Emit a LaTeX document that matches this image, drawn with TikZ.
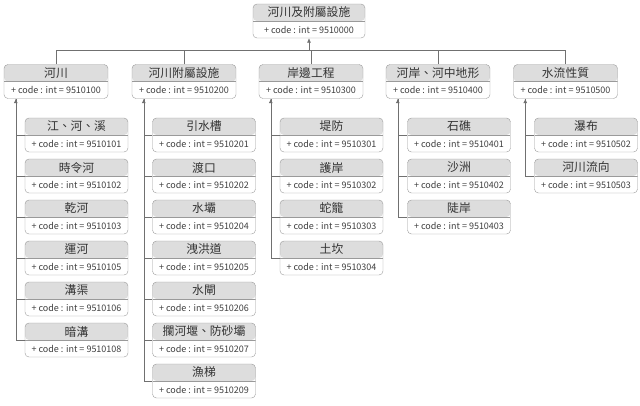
\documentclass[tikz,border=0pt]{standalone}
\usepackage{fontspec}
\setmainfont{Noto Sans CJK TC}
\usetikzlibrary{arrows.meta}
\definecolor{boxline}{HTML}{9A9A9A}
\definecolor{titlefill}{HTML}{DDDDDD}
\definecolor{linkline}{HTML}{707070}
\tikzset{
  classbox/.style={
    draw=boxline, fill=white, rounded corners=4pt, inner sep=0pt,
    minimum width=103pt, minimum height=34pt,
    path picture={
      \fill[titlefill] (path picture bounding box.north west) rectangle (path picture bounding box.east);
      \draw[boxline] (path picture bounding box.west) -- (path picture bounding box.east);
    }
  },
  titletext/.style={font=\fontsize{11.8}{12}\selectfont, text=black!80},
  codetext/.style={font=\fontsize{9}{9}\selectfont, text=black!75},
  link/.style={draw=linkline, line width=0.6pt},
  linkarrow/.style={link, -{Latex[length=4.5pt,width=4pt]}}
}
% one class box: [width] name, position, title, code
\newcommand{\classnode}[5][103pt]{%
  \node[classbox, minimum width=#1] (#2) at (#3) {};
  \node[titletext] (#2-t) at ([yshift=8.5pt]#2.center) {#4};
  \node[codetext] (#2-c) at ([yshift=-8.5pt]#2.center) {+ code : int = #5};
}

\begin{document}
\begin{tikzpicture}[x=1pt, y=-1pt]
  \useasboundingbox (0,0) rectangle (640,405);

  % Root class
  \classnode[112pt]{root}{309,21}{河川及附屬設施}{9510000}

  % Categories
  \classnode[104pt]{river}{56,81.5}{河川}{9510100}
  \classnode[104pt]{facility}{184,81.5}{河川附屬設施}{9510200}
  \classnode[104pt]{bankwork}{311,81.5}{岸邊工程}{9510300}
  \classnode[104pt]{landform}{438,81.5}{河岸、河中地形}{9510400}
  \classnode[104pt]{flow}{565.5,81.5}{水流性質}{9510500}

  % Bus to the root
  \coordinate (bus) at (309,50);
  \draw[link] (river.north) |- (bus);
  \draw[link] (facility.north) |- (bus);
  \draw[link] (bankwork.north) |- (bus);
  \draw[link] (landform.north) |- (bus);
  \draw[link] (flow.north) |- (bus);
  \draw[linkarrow] (bus) -- (root.south);

  % Entry points below each category
  \coordinate (river-tip) at ([xshift=12pt]river.south west);
  \coordinate (facility-tip) at ([xshift=12pt]facility.south west);
  \coordinate (bankwork-tip) at ([xshift=12pt]bankwork.south west);
  \coordinate (landform-tip) at ([xshift=12pt]landform.south west);
  \coordinate (flow-tip) at ([xshift=12pt]flow.south west);

  % Children of 河川
  \foreach \ttl/\num [count=\i] in {江、河、溪/9510101, 時令河/9510102, 乾河/9510103,
      運河/9510105, 溝渠/9510106, 暗溝/9510108}{
    \classnode{river\i}{76.5,{135+41*(\i-1)}}{\ttl}{\num}
    \draw[link] (river\i.west) -| (river-tip);
  }
  \draw[linkarrow] (river6.west) -| (river-tip);

  % Children of 河川附屬設施
  \foreach \ttl/\num [count=\i] in {引水槽/9510201, 渡口/9510202, 水壩/9510204,
      洩洪道/9510205, 水閘/9510206, 攔河堰、防砂壩/9510207, 漁梯/9510209}{
    \classnode{facility\i}{204,{135+41*(\i-1)}}{\ttl}{\num}
    \draw[link] (facility\i.west) -| (facility-tip);
  }
  \draw[linkarrow] (facility7.west) -| (facility-tip);

  % Children of 岸邊工程
  \foreach \ttl/\num [count=\i] in {堤防/9510301, 護岸/9510302, 蛇籠/9510303, 土坎/9510304}{
    \classnode{bankwork\i}{331.5,{135+41*(\i-1)}}{\ttl}{\num}
    \draw[link] (bankwork\i.west) -| (bankwork-tip);
  }
  \draw[linkarrow] (bankwork4.west) -| (bankwork-tip);

  % Children of 河岸、河中地形
  \foreach \ttl/\num [count=\i] in {石礁/9510401, 沙洲/9510402, 陡岸/9510403}{
    \classnode{landform\i}{459,{135+41*(\i-1)}}{\ttl}{\num}
    \draw[link] (landform\i.west) -| (landform-tip);
  }
  \draw[linkarrow] (landform3.west) -| (landform-tip);

  % Children of 水流性質
  \foreach \ttl/\num [count=\i] in {瀑布/9510502, 河川流向/9510503}{
    \classnode{flow\i}{586,{135+41*(\i-1)}}{\ttl}{\num}
    \draw[link] (flow\i.west) -| (flow-tip);
  }
  \draw[linkarrow] (flow2.west) -| (flow-tip);

\end{tikzpicture}
\end{document}
